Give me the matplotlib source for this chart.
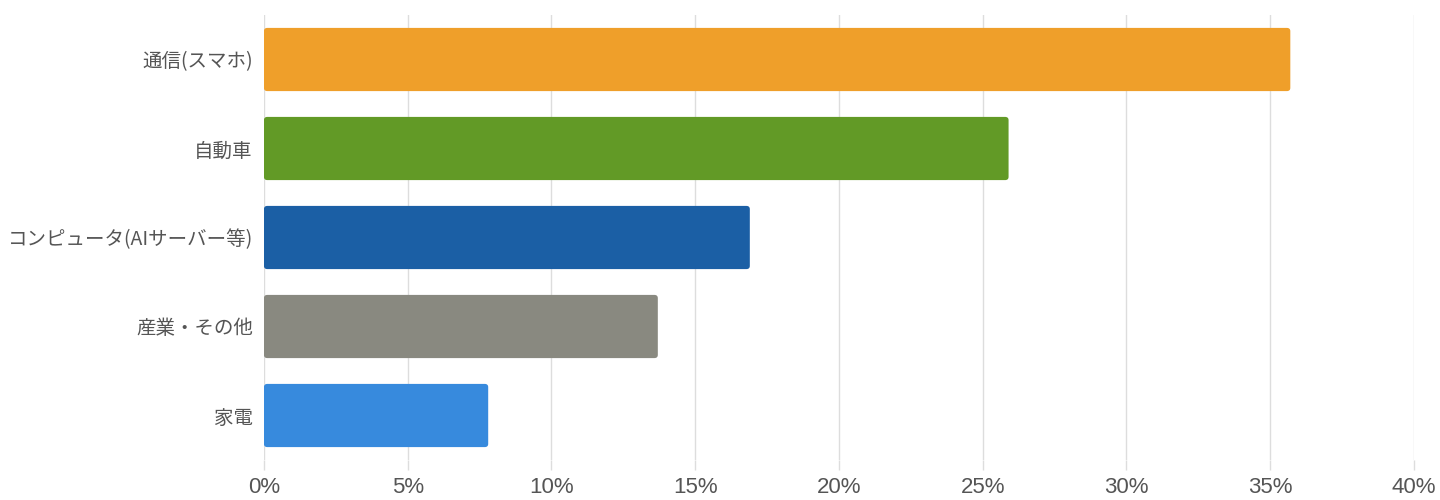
import matplotlib
matplotlib.use("Agg")
import matplotlib.pyplot as plt
from matplotlib.patches import FancyBboxPatch
from matplotlib.ticker import FuncFormatter

plt.rcParams['font.family'] = ['Noto Sans CJK JP', 'DejaVu Sans']

# データ
categories = ['通信(スマホ)', '自動車', 'コンピュータ(AIサーバー等)', '産業・その他', '家電']
shares = [35.7, 25.9, 16.9, 13.7, 7.8]
colors = ['#EF9F2A', '#629A26', '#1B5FA5', '#898980', '#378ADD']
xticks = [0, 5, 10, 15, 20, 25, 30, 35, 40]

fig = plt.figure(figsize=(14.4, 5), dpi=100)
ax = fig.add_axes([0.1833, 0.08, 0.7986, 0.89])

ypos = list(range(len(categories)))
bars = ax.barh(ypos, shares, height=0.71, color=colors)

# 角を少し丸める
for b in bars:
    x0, y0 = b.get_x(), b.get_y()
    w, h = b.get_width(), b.get_height()
    b.set_visible(False)
    ax.add_patch(FancyBboxPatch((x0, y0), w, h,
                                boxstyle="round,pad=0,rounding_size=0.12",
                                mutation_aspect=0.3,
                                facecolor=b.get_facecolor(), edgecolor='none', zorder=3))

ax.set_xlim(0, 40)
ax.set_ylim(4.5, -0.5)
ax.set_yticks(ypos)
ax.set_yticklabels(categories, fontsize=14, color='#555555')
ax.set_xticks(xticks)
ax.xaxis.set_major_formatter(FuncFormatter(lambda v, p: f'{v:.0f}%'))
ax.tick_params(axis='x', labelsize=16, labelcolor='#555555', color='#dddddd',
               length=7, width=1, pad=5)
for lbl in ax.get_xticklabels():
    lbl.set_family(['Liberation Sans', 'DejaVu Sans'])
ax.tick_params(axis='y', length=0, pad=8)
ax.grid(axis='x', color='#dddddd', linewidth=1, zorder=0)
ax.set_axisbelow(True)
for s in ax.spines.values():
    s.set_visible(False)

fig.savefig('out.png', dpi=100)
